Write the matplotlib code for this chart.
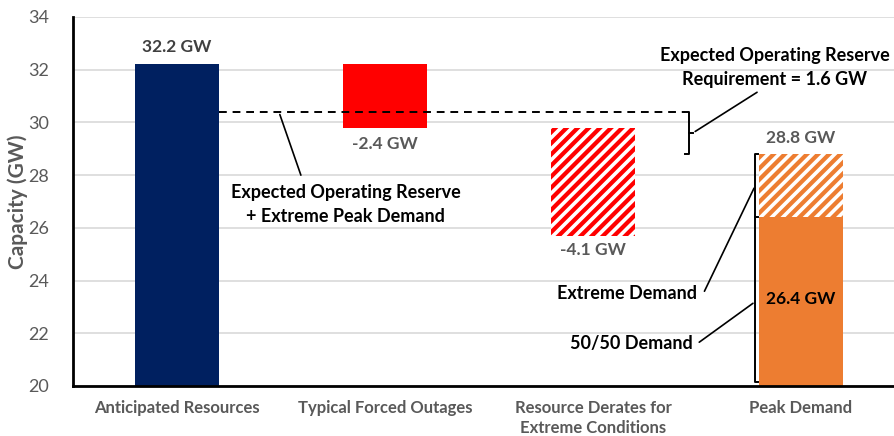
import matplotlib.pyplot as plt

plt.rcParams['font.family'] = ['Lato', 'DejaVu Sans']

# Data
categories = ["Anticipated Resources", "Typical Forced Outages",
              "Resource Derates for\nExtreme Conditions", "Peak Demand"]
resources = 32.2
outages = -2.4
derates = -4.1
demand_5050 = 26.4
demand_extreme = 28.8
reserve = 1.6
y_min = 20

navy = "#002060"
red = "#FF0000"
orange = "#ED7D31"
gray = "#595959"

plt.rcParams['hatch.linewidth'] = 2.6

fig = plt.figure(figsize=(8.95, 4.36), dpi=100)
ax = fig.add_axes([73 / 895, 50 / 436, 822 / 895, 369 / 436])
x = range(len(categories))
w = 0.4

# bars
ax.bar(0, resources - y_min, bottom=y_min, width=w, color=navy, zorder=3)
after_outages = resources + outages
ax.bar(1, -outages, bottom=after_outages, width=w, color=red, zorder=3)
after_derates = after_outages + derates
ax.bar(2, -derates, bottom=after_derates, width=w, color=red, edgecolor="white",
       hatch="///", linewidth=0, zorder=3)
ax.bar(3, demand_5050 - y_min, bottom=y_min, width=w, color=orange, zorder=3)
ax.bar(3, demand_extreme - demand_5050, bottom=demand_5050, width=w, color=orange,
       edgecolor="white", hatch="///", linewidth=0, zorder=3)

# value labels
lab = dict(ha="center", fontsize=12.5, fontweight="bold")
ax.text(0, resources + 0.35, f"{resources} GW", va="bottom", color="#404040", **lab)
ax.text(1, after_outages - 0.3, f"{outages} GW", va="top", color=gray, **lab)
ax.text(2, after_derates - 0.25, f"{derates} GW", va="top", color=gray, **lab)
ax.text(3, demand_extreme + 0.3, f"{demand_extreme} GW", va="bottom", color=gray, **lab)
ax.text(3, 23.3, f"{demand_5050} GW", va="center", color="black", **lab)

# dashed line: reserve + extreme demand
level = demand_extreme + reserve
ax.plot([0 + w / 2, 2.44], [level, level], ls=(0, (4, 3)), color="black", lw=1.4, zorder=4)
ax.plot([2.44, 2.46, 2.46, 2.44], [level, level, demand_extreme, demand_extreme],
        color="black", lw=1.4, zorder=4)
ax.plot([2.46, 2.48], [(level + demand_extreme) / 2] * 2, color="black", lw=1.4)

ann = dict(fontsize=13, fontweight="bold", color="black")
ax.annotate("", xy=(0.49, level), xytext=(0.6, 27.9),
            arrowprops=dict(arrowstyle="-", color="black", lw=1.2))
ax.text(0.81, 27.65, "Expected Operating Reserve\n+ Extreme Peak Demand",
        ha="center", va="top", linespacing=1.5, **ann)
ax.annotate("", xy=(2.48, (level + demand_extreme) / 2), xytext=(2.8, 31.2),
            arrowprops=dict(arrowstyle="-", color="black", lw=1.2))
ax.text(2.875, 31.3, "Expected Operating Reserve\nRequirement = 1.6 GW",
        ha="center", va="bottom", linespacing=1.5, **ann)

# bracket on peak demand
bx = 3 - w / 2 - 0.02
ax.plot([bx + 0.015, bx, bx, bx + 0.015], [demand_extreme, demand_extreme, y_min + 0.15, y_min + 0.15],
        color="black", lw=1.4, zorder=4)
ax.plot([bx, bx + 0.015], [demand_5050, demand_5050], color="black", lw=1.4, zorder=4)
ax.annotate("", xy=(bx, (demand_extreme + demand_5050) / 2), xytext=(2.53, 23.5),
            arrowprops=dict(arrowstyle="-", color="black", lw=1.2))
ax.text(2.5, 23.5, "Extreme Demand", ha="right", va="center", **ann)
ax.annotate("", xy=(bx, 23.2), xytext=(2.5, 21.6),
            arrowprops=dict(arrowstyle="-", color="black", lw=1.2))
ax.text(2.48, 21.6, "50/50 Demand", ha="right", va="center", **ann)

# axes styling
ax.set_xlim(-0.5, 3.452)
ax.set_ylim(y_min, 34)
ax.set_yticks(range(20, 35, 2))
ax.set_xticks(list(x))
ax.set_xticklabels(categories, fontsize=12, fontweight="bold", color=gray, linespacing=1.3)
ax.tick_params(axis="y", labelsize=13, colors=gray, length=0, pad=17)
ax.tick_params(axis="x", length=0, pad=10)
ax.set_ylabel("Capacity (GW)", fontsize=15, fontweight="bold", color=gray)
ax.yaxis.set_label_coords(-0.055, 0.5)
ax.grid(axis="y", color="#D9D9D9", lw=1.2, zorder=0)
for s in ["top", "right"]:
    ax.spines[s].set_visible(False)
for s in ["left", "bottom"]:
    ax.spines[s].set_linewidth(2)
    ax.spines[s].set_zorder(5)

fig.savefig("out.png", dpi=100)
